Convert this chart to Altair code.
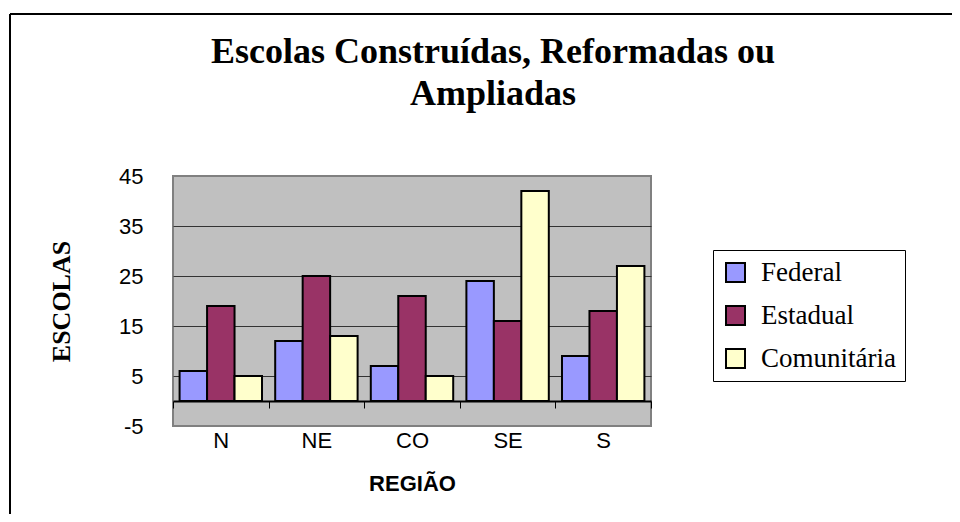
import altair as alt
import pandas as pd

regioes = ["N", "NE", "CO", "SE", "S"]
series = ["Federal", "Estadual", "Comunitária"]
federal = [6, 12, 7, 24, 9]
estadual = [19, 25, 21, 16, 18]
comunitaria = [5, 13, 5, 42, 27]
colors = ["#9999FF", "#993366", "#FFFFCC"]
y_ticks = [-5, 5, 15, 25, 35, 45]

rows = []
for i, r in enumerate(regioes):
    for s, vals in zip(series, [federal, estadual, comunitaria]):
        rows.append({"Região": r, "Tipo": s, "Escolas": vals[i]})
df = pd.DataFrame(rows)

bars = alt.Chart(df).mark_bar(stroke="black", strokeWidth=2).encode(
    x=alt.X(
        "Região:N",
        sort=regioes,
        scale=alt.Scale(paddingInner=0, paddingOuter=0),
        axis=alt.Axis(
            title="REGIÃO",
            orient="bottom",
            offset=-25,
            labelAngle=0,
            labelFont="Liberation Sans",
            labelFontSize=22,
            labelColor="black",
            labelPadding=22,
            domainColor="black",
            domainWidth=2,
            ticks=True,
            tickBand="extent",
            tickSize=7,
            tickColor="black",
            tickWidth=1,
            titleFont="Liberation Sans",
            titleFontSize=22,
            titleFontWeight="bold",
            titleColor="black",
            titlePadding=22,
        ),
    ),
    xOffset=alt.XOffset(
        "Tipo:N", sort=series, scale=alt.Scale(paddingInner=0, paddingOuter=0.24)
    ),
    y=alt.Y(
        "Escolas:Q",
        scale=alt.Scale(domain=[-5, 45], nice=False, zero=False),
        axis=alt.Axis(
            title="ESCOLAS",
            values=y_ticks,
            labelExpr="datum.value + ''",
            labelFont="Liberation Sans",
            labelFontSize=22,
            labelColor="black",
            labelPadding=30,
            ticks=False,
            domain=False,
            grid=True,
            gridColor="#333333",
            gridWidth=1,
            gridOpacity=alt.condition(
                "datum.value > -5 && datum.value < 45", alt.value(1), alt.value(0)
            ),
            titleFont="Liberation Serif",
            titleFontSize=26,
            titleFontWeight="bold",
            titleColor="black",
            titlePadding=44,
        ),
    ),
    color=alt.Color(
        "Tipo:N",
        sort=series,
        scale=alt.Scale(domain=series, range=colors),
        legend=alt.Legend(
            title=None,
            orient="none",
            legendX=540,
            legendY=74,
            symbolType="square",
            symbolSize=361,
            symbolStrokeColor="black",
            symbolStrokeWidth=2,
            symbolOpacity=1,
            labelFont="Liberation Serif",
            labelFontSize=27,
            labelColor="black",
            labelOffset=12,
            rowPadding=15,
            strokeColor="black",
            fillColor="white",
            padding=9,
        ),
    ),
)

one = pd.DataFrame({"k": [0]})
frame_top = alt.Chart(one).mark_rule(color="black", strokeWidth=2).encode(
    x=alt.value(-163), x2=alt.value(800), y=alt.value(-162)
)
frame_left = alt.Chart(one).mark_rule(color="black", strokeWidth=2).encode(
    x=alt.value(-163), y=alt.value(-162), y2=alt.value(360)
)

chart = (
    alt.layer(bars, frame_top, frame_left)
    .properties(
        width=478,
        height=250,
        autosize=alt.AutoSizeParams(type="none"),
        padding={"left": 165, "top": 168, "right": 301, "bottom": 88},
        background="white",
        title=alt.TitleParams(
            ["Escolas Construídas, Reformadas ou", "Ampliadas"],
            font="Liberation Serif",
            fontSize=36,
            fontWeight="bold",
            color="black",
            anchor="middle",
            frame="group",
            dx=81,
            offset=-100,
            lineHeight=42,
        ),
    )
    .configure_view(fill="#C0C0C0", stroke="#808080", strokeWidth=2)
)

chart.save("out.html", embed_options={"renderer": "svg", "actions": False})
